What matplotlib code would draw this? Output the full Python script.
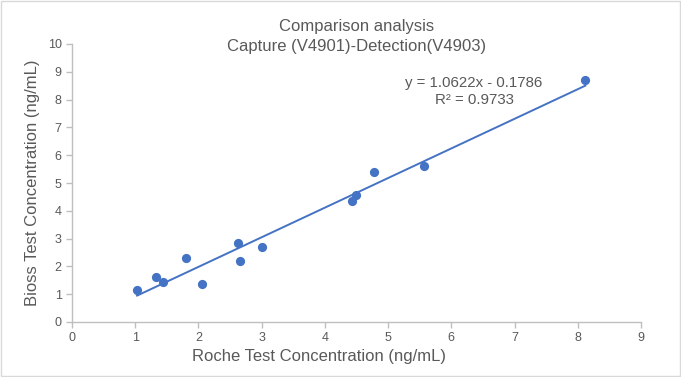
import numpy as np
import matplotlib
matplotlib.use("Agg")
from matplotlib import pyplot as plt
from matplotlib.patches import Rectangle

plt.rcParams['font.family'] = ['Liberation Sans', 'DejaVu Sans']

# Roche vs Bioss concentrations (ng/mL)
roche = [1.03, 1.33, 1.44, 1.80, 2.06, 2.63, 2.65, 3.01, 4.43, 4.49, 4.78, 5.57, 8.12]
bioss = [1.15, 1.61, 1.43, 2.30, 1.38, 2.83, 2.20, 2.71, 4.36, 4.57, 5.41, 5.61, 8.69]
x_ticks = list(range(0, 10))
y_ticks = list(range(0, 11))

blue = "#4472C4"
grey = "#595959"

fig = plt.figure(figsize=(6.81, 3.77), dpi=100)
ax = fig.add_axes([72 / 681, 1 - 322 / 377, (641 - 72) / 681, (322 - 44) / 377])

ax.scatter(roche, bioss, s=44, color=blue, zorder=3, linewidths=0)

# linear trendline
slope, intercept = np.polyfit(roche, bioss, 1)
xs = np.array([min(roche), max(roche)])
ax.plot(xs, slope * xs + intercept, color=blue, lw=1.4, zorder=2)

ax.text(6.36, 8.29, "y = 1.0622x - 0.1786\nR² = 0.9733", ha="center", va="center",
        fontsize=10.8, color=grey, linespacing=1.35)

ax.set_xlim(0, 9)
ax.set_ylim(0, 10)
ax.set_xticks(x_ticks)
ax.set_yticks(y_ticks)
ax.tick_params(colors="#bfbfbf", labelcolor=grey, labelsize=9, length=4, width=1)
for s in ["top", "right"]:
    ax.spines[s].set_visible(False)
for s in ["left", "bottom"]:
    ax.spines[s].set_color("#bfbfbf")
    ax.spines[s].set_linewidth(1)

ax.set_xlabel("Roche Test Concentration (ng/mL)", fontsize=12, color=grey)
ax.xaxis.set_label_coords((319 - 72) / (641 - 72), -(356 - 322) / (322 - 44), transform=ax.transAxes)
ax.xaxis.label.set_va("center")
ax.set_ylabel("Bioss Test Concentration (ng/mL)", fontsize=12, color=grey)
ax.yaxis.set_label_coords(-(72 - 33) / (641 - 72), 0.5, transform=ax.transAxes)
ax.yaxis.label.set_va("center")

# two-line title, placed in figure pixels
fig.text(357 / 681, 1 - 27 / 377, "Comparison analysis", fontsize=12, color=grey,
         ha="center", va="center")
fig.text(357 / 681, 1 - 46 / 377, "Capture (V4901)-Detection(V4903)", fontsize=12, color=grey,
         ha="center", va="center")

fig.patches.append(Rectangle((0.001, 0.002), 0.997, 0.995, transform=fig.transFigure,
                             fill=False, edgecolor="#d9d9d9", lw=1))

fig.savefig("out.png", dpi=100)
